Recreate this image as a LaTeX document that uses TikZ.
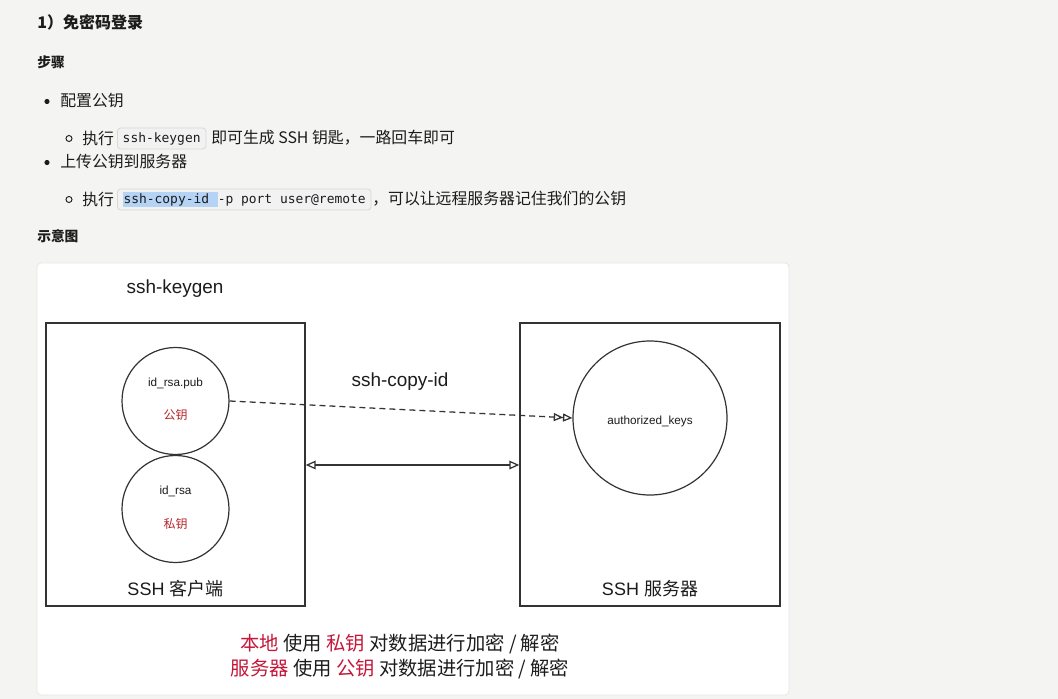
\documentclass[tikz,border=0pt]{standalone}
\usepackage{fontspec}
\setmainfont{Liberation Sans}
\newfontfamily\cjk{Noto Sans CJK SC}
\newfontfamily\mono{DejaVu Sans Mono}
\usetikzlibrary{arrows.meta}
\definecolor{pagebg}{HTML}{F4F4F3}
\definecolor{cardline}{HTML}{E6E6E6}
\definecolor{ink}{HTML}{1C1C1C}
\definecolor{dline}{HTML}{333333}
\definecolor{kred}{HTML}{C4173A}
\definecolor{lred}{HTML}{B3262A}
\definecolor{hlblue}{HTML}{B5D3F5}
\definecolor{codebg}{HTML}{F2F2F2}
\definecolor{codeline}{HTML}{D8D8D8}
\tikzset{
  txt/.style={inner sep=0pt, text=ink},
  body/.style={txt, anchor=west, font=\cjk\fontsize{11.9}{14}\selectfont},
  codebox/.style={anchor=west, draw=codeline, fill=codebg, rounded corners=2.5pt, line width=0.6pt,
    inner xsep=4pt, inner ysep=0pt, minimum height=21*0.75pt, text=ink, font=\mono\fontsize{9.7}{11}\selectfont},
  frame/.style={draw=dline, line width=1.1pt, inner sep=0pt},
  keycircle/.style={draw=dline, line width=0.9pt, circle, inner sep=0pt},
  lbl/.style={txt, font=\fontsize{14.2}{16}\selectfont},
  small/.style={txt, font=\fontsize{8.8}{10}\selectfont},
  redsmall/.style={inner sep=0pt, text=lred, font=\cjk\fontsize{9}{10}\selectfont},
  conn/.style={draw=dline, line width=0.95pt}
}
\begin{document}
\begin{tikzpicture}[x=0.75pt, y=-0.75pt]
\useasboundingbox (0,0) rectangle (1058,699);
\fill[pagebg] (0,0) rectangle (1058,699);

% heading and list
\node[txt, anchor=west, font=\cjk\bfseries\fontsize{12}{14}\selectfont] (title) at (37,22) {1）免密码登录};
\node[txt, anchor=west, font=\cjk\bfseries\fontsize{10.3}{12}\selectfont] (steps) at (37,62) {步骤};

\fill[ink] (47,101.5) circle (2.6);
\node[body] (b1) at (60,101) {配置公钥};
\draw[ink, line width=0.7pt] (69,138.5) circle (3);
\node[body] (e1) at (82,138) {执行};
\node[codebox] (kg) at (117,138.5) {ssh-keygen};
\node[body] (t1) at (211,138) {即可生成 SSH 钥匙，一路回车即可};

\fill[ink] (47,162.5) circle (2.6);
\node[body] (b2) at (60,162) {上传公钥到服务器};
\draw[ink, line width=0.7pt] (69,199.5) circle (3);
\node[body] (e2) at (82,199) {执行};
\node[codebox] (cp) at (117,199.5) {{\setlength\fboxsep{0.6pt}\colorbox{hlblue}{\vphantom{Ig}ssh-copy-id\ }}-p port user@remote};
\node[body] (t2) at (372,199) {，可以让远程服务器记住我们的公钥};

\node[txt, anchor=west, font=\cjk\bfseries\fontsize{10.3}{12}\selectfont] (fig) at (37,236) {示意图};

% card
\draw[cardline, fill=white, rounded corners=3pt, line width=0.6pt] (37,263) rectangle (789,695);

% diagram
\node[lbl] (kgl) at (175,289) {ssh-keygen};
\node[frame, minimum width=259*0.75pt, minimum height=283*0.75pt] (client) at (175.5,464.5) {};
\node[frame, minimum width=260*0.75pt, minimum height=283*0.75pt] (server) at (650,464.5) {};

\node[keycircle, minimum size=107*0.75pt] (pub) at (175.5,401) {};
\node[small] (publ) at (175.5,383) {id\_rsa.pub};
\node[redsmall] (pubk) at (175.5,415) {公钥};

\node[keycircle, minimum size=107*0.75pt] (priv) at (175.5,509) {};
\node[small] (privl) at (175.5,491) {id\_rsa};
\node[redsmall] (privk) at (175.5,524) {私钥};

\node[keycircle, minimum size=154*0.75pt] (auth) at (650,418) {};
\node[small] (authl) at (650,421) {authorized\_keys};

\node[lbl] (cpl) at (400,382) {ssh-copy-id};
\draw[conn, dash pattern=on 4.5pt off 3pt, -{Triangle[open, length=7pt, width=6pt]Triangle[open, length=7pt, width=6pt]}] (pub.east) -- (auth.west);
\draw[conn, {Triangle[open, length=7.5pt, width=6.5pt]}-{Triangle[open, length=7.5pt, width=6.5pt]}] (client.east |- 0,465) -- (server.west |- 0,465);

\node[txt, font=\fontsize{13.5}{16}\selectfont] (cl) at (175.5,589) {SSH {\cjk 客户端}};
\node[txt, font=\fontsize{13.5}{16}\selectfont] (sl) at (650,589) {SSH {\cjk 服务器}};

\node[txt, font=\cjk\fontsize{14.5}{16}\selectfont] (n1) at (400,644) {{\color{kred}本地} 使用 {\color{kred}私钥} 对数据进行加密 / 解密};
\node[txt, font=\cjk\fontsize{14.5}{16}\selectfont] (n2) at (400,669) {{\color{kred}服务器} 使用 {\color{kred}公钥} 对数据进行加密 / 解密};
\end{tikzpicture}
\end{document}
